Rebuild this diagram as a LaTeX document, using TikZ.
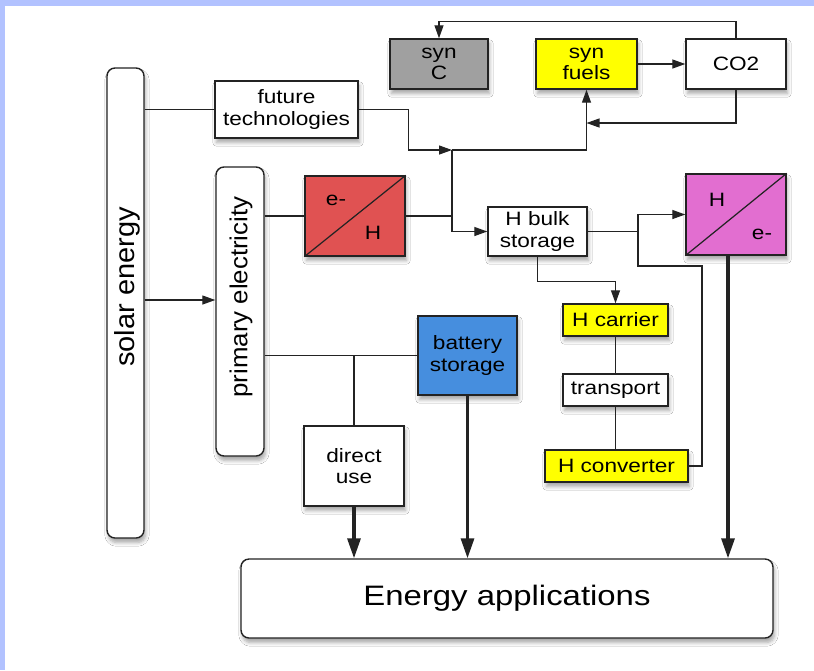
\documentclass[tikz,border=0pt]{standalone}
\usepackage{fontspec}
\setmainfont{Liberation Sans}
\newfontfamily\boxfont{Liberation Sans}[FakeStretch=1.17]
\usepackage{graphicx}
\usetikzlibrary{arrows.meta,shadows.blur}

\definecolor{frameblue}{RGB}{178,194,255}
\definecolor{syngray}{RGB}{160,160,160}
\definecolor{fuelyellow}{RGB}{255,255,0}
\definecolor{elyred}{RGB}{224,82,82}
\definecolor{cellpink}{RGB}{226,110,208}
\definecolor{battblue}{RGB}{70,142,222}
\definecolor{edge}{RGB}{35,35,35}

\tikzset{
  boxtext/.style={font=\boxfont\fontsize{11}{12}\selectfont},
  box/.style={draw=edge, line width=0.8pt, fill=white, inner sep=0pt, align=center, boxtext,
    blur shadow={shadow blur steps=6, shadow xshift=0.3mm, shadow yshift=-0.9mm, shadow opacity=35}},
  rbox/.style={box, rounded corners=1.6mm},
  wire/.style={draw=edge, line width=0.7pt},
  arr/.style={wire, -{Triangle[length=2.6mm,width=1.8mm]}},
  bigarr/.style={draw=edge, line width=1.8pt, -{Triangle[length=4mm,width=2.6mm]}},
}

\begin{document}
\begin{tikzpicture}[x=0.2mm,y=-0.2mm]
% frame
\useasboundingbox (0,0) rectangle (814,670);
\fill[frameblue] (0,0) rectangle (814,670);
\fill[white] (5,6) rectangle (814,670);

% sources
\node[rbox, minimum width=7.4mm, minimum height=94mm] (solar) at (125.5,303) {};
\node[rotate=90, inner sep=0pt] (solarT) at (127,287)
  {\scalebox{1}[0.95]{\fontsize{16.5}{18}\selectfont solar energy}};
\node[rbox, minimum width=9.6mm, minimum height=57.8mm] (primary) at (240,311.5) {};
\node[rotate=90, inner sep=0pt] (primaryT) at (241,297)
  {\scalebox{1}[0.95]{\fontsize{14.7}{16}\selectfont primary electricity}};
\node[box, minimum width=28.6mm, minimum height=11.4mm] (future) at (286.5,109.5) {future\\technologies};

% carbon loop
\node[box, fill=syngray, minimum width=19.6mm, minimum height=10mm] (synC) at (439,64) {syn\\C};
\node[box, fill=fuelyellow, minimum width=20.2mm, minimum height=10mm] (synfuels) at (586.5,64) {syn\\fuels};
\node[box, minimum width=20mm, minimum height=10mm] (co2) at (736,64) {CO2};

% hydrogen chain
\node[box, fill=elyred, minimum width=20mm, minimum height=16mm] (elyser) at (355,216) {};
\draw[wire] (elyser.south west) -- (elyser.north east);
\node[boxtext] (elyserE) at ([shift={(-19,-16)}]elyser.center) {e-};
\node[boxtext] (elyserH) at ([shift={(18,17)}]elyser.center) {H};

\node[box, minimum width=19.8mm, minimum height=9.8mm] (bulk) at (537.5,231.5) {H bulk\\storage};

\node[box, fill=cellpink, minimum width=20mm, minimum height=16.2mm] (fuelcell) at (736,214.5) {};
\draw[wire] (fuelcell.south west) -- (fuelcell.north east);
\node[boxtext] (fuelcellH) at ([shift={(-19,-15)}]fuelcell.center) {H};
\node[boxtext] (fuelcellE) at ([shift={(26,20)}]fuelcell.center) {e-};

\node[box, fill=fuelyellow, minimum width=21mm, minimum height=6.4mm] (carrier) at (615.5,320) {H carrier};
\node[box, minimum width=21mm, minimum height=6.4mm] (transport) at (615.5,390) {transport};
\node[box, fill=fuelyellow, minimum width=28.6mm, minimum height=6.4mm] (converter) at (616.5,466) {H converter};

% electricity use
\node[box, fill=battblue, minimum width=19.8mm, minimum height=15.8mm] (battery) at (467.5,355.5) {battery\\storage};
\node[box, minimum width=20mm, minimum height=16mm] (direct) at (354,466) {direct\\use};
\node[rbox, minimum width=106.4mm, minimum height=15.8mm, font=\boxfont\fontsize{16}{18}\selectfont] (apps) at (507,598.5) {Energy applications};

% junctions
\coordinate (jf) at (452,150);
\coordinate (jc) at (586.5,123);
\coordinate (jb) at (638,231.5);
\coordinate (jd) at (702,266);

% wires
\draw[wire] (future.west -| solar.east) -- (future.west);
\draw[arr] ([yshift=2.3mm]primary.west -| solar.east) -- ([yshift=2.3mm]primary.west);
\draw[wire] (elyser.west -| primary.east) -- (elyser.west);
\draw[wire] (battery.west -| primary.east) -- (battery.west);
\draw[wire] (direct.north) -- (direct.north |- battery.west);

\draw[arr] (future.east) -- ++(50,0) |- (jf);
\draw[arr] (jf) -| (synfuels.south);
\draw[wire] (elyser.east) -- (elyser.east -| jf);
\draw[arr] (jf) |- (bulk.west);
\draw[arr] (co2.south) |- (jc);
\draw[arr] (co2.north) -- ++(0,-17) -| (synC.north);
\draw[arr] (synfuels.east) -- (co2.west);

\draw[arr] (bulk.east) -- (jb) |- (fuelcell.west);
\draw[wire] (jb) |- (jd) |- (converter.east);
\draw[arr] (bulk.south) -- ++(0,25) -| (carrier.north);
\draw[wire] (carrier.south) -- (transport.north);
\draw[wire] (transport.south) -- (converter.north -| transport.south);

% into applications
\draw[bigarr] (direct.south) -- (direct.south |- apps.north);
\draw[bigarr] (battery.south) -- (battery.south |- apps.north);
\draw[bigarr] ([xshift=-1.6mm]fuelcell.south) -- ([xshift=-1.6mm]fuelcell.south |- apps.north);
\end{tikzpicture}
\end{document}
